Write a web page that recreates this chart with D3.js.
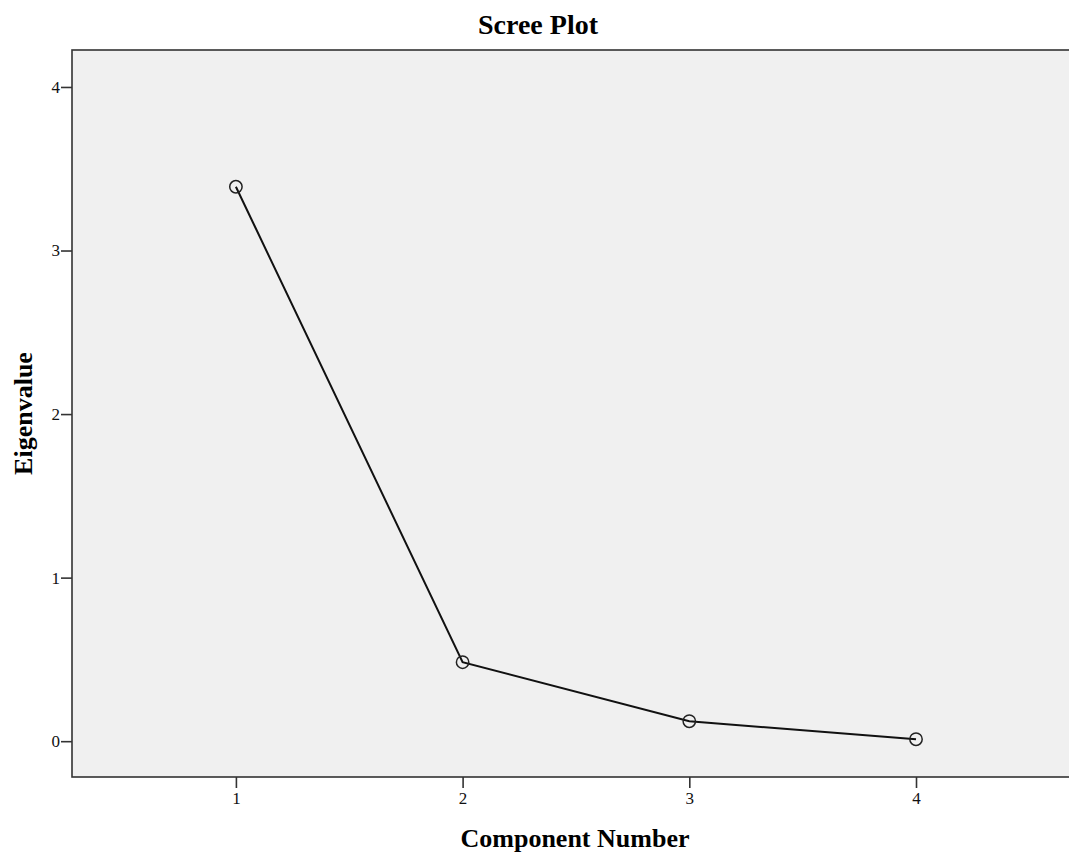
<!DOCTYPE html>
<html>
<head>
<meta charset="utf-8">
<script src="https://cdn.jsdelivr.net/npm/d3@7"></script>
<style>
  body { margin: 0; background: #fff; }
  text { font-family: "Liberation Serif", "Times New Roman", serif; }
</style>
</head>
<body>
<svg></svg>
<script>
var width = 1069;
var height = 852;

// data
var components = [1, 2, 3, 4];
var eigenvalues = [3.39, 0.483, 0.122, 0.012];
var yTicks = [0, 1, 2, 3, 4];

var plotLeft = 72, plotTop = 50, plotBottom = 777, plotRight = 1078;

var x = d3.scaleLinear()
          .domain([0.277, 4.7])
          .range([plotLeft, plotLeft + (4.7 - 0.277) * 226.7]);
var y = d3.scaleLinear()
          .domain([-0.219, 4.226])
          .range([plotBottom, plotTop]);

var svg = d3.select("svg")
            .attr("width", width)
            .attr("height", height);

svg.append("rect")
    .attr("x", plotLeft)
    .attr("y", plotTop)
    .attr("width", plotRight - plotLeft)
    .attr("height", plotBottom - plotTop)
    .attr("fill", "#f0f0f0")
    .attr("stroke", "#333")
    .attr("stroke-width", 1.6);

var yAxis = svg.append("g")
    .attr("transform", "translate(" + plotLeft + ",0)")
    .call(d3.axisLeft(y).tickValues(yTicks).tickSize(11).tickPadding(1).tickFormat(d3.format("d")));
yAxis.select(".domain").remove();

var xAxis = svg.append("g")
    .attr("transform", "translate(0," + plotBottom + ")")
    .call(d3.axisBottom(x).tickValues(components).tickSize(11).tickPadding(4).tickFormat(d3.format("d")));
xAxis.select(".domain").remove();

svg.selectAll(".tick line").attr("stroke", "#333").attr("stroke-width", 1.6);
svg.selectAll(".tick text")
    .attr("font-family", "'Liberation Serif', serif")
    .attr("font-size", 17)
    .attr("fill", "#111");

var pts = components.map((c, i) => ({c: c, v: eigenvalues[i]}));

svg.append("path")
    .datum(pts)
    .attr("fill", "none")
    .attr("stroke", "#111")
    .attr("stroke-width", 2)
    .attr("d", d3.line().x(d => x(d.c)).y(d => y(d.v)));

svg.selectAll(".pt")
    .data(pts)
    .enter()
    .append("circle")
        .classed("pt", true)
        .attr("cx", d => x(d.c))
        .attr("cy", d => y(d.v))
        .attr("r", 6.2)
        .attr("fill", "none")
        .attr("stroke", "#222")
        .attr("stroke-width", 1.5);

svg.append("text")
    .attr("x", 538)
    .attr("y", 34)
    .attr("text-anchor", "middle")
    .style("font-size", "28px")
    .style("font-weight", "bold")
    .text("Scree Plot");

svg.append("text")
    .attr("x", (plotLeft + plotRight) / 2)
    .attr("y", 847)
    .attr("text-anchor", "middle")
    .style("font-size", "26px")
    .style("font-weight", "bold")
    .text("Component Number");

svg.append("text")
    .attr("transform", "translate(32," + (plotTop + plotBottom) / 2 + ") rotate(-90)")
    .attr("text-anchor", "middle")
    .style("font-size", "26px")
    .style("font-weight", "bold")
    .text("Eigenvalue");
</script>
</body>
</html>
